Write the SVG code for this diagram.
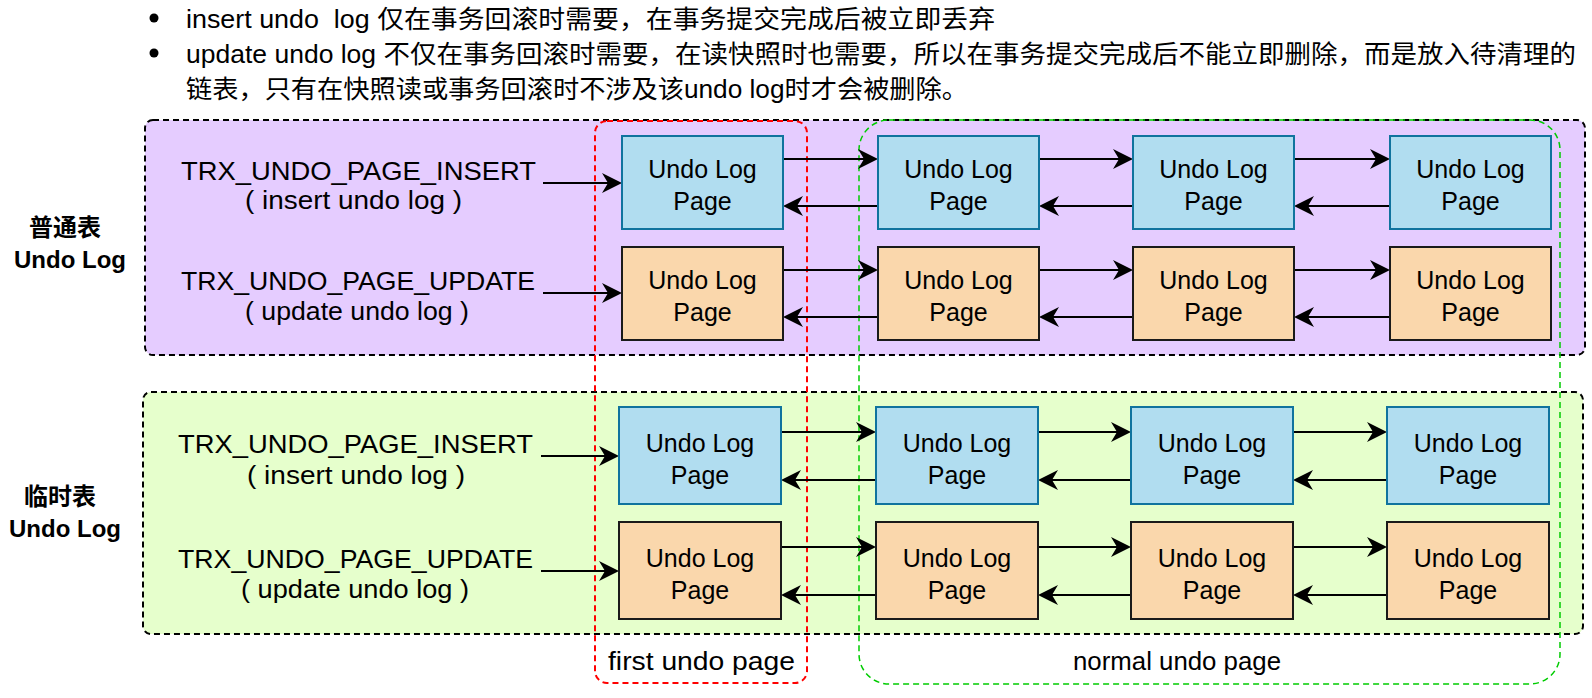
<svg xmlns="http://www.w3.org/2000/svg" width="1592" height="698" viewBox="0 0 1592 698">
<defs>
<style>
.t{font-family:"Liberation Sans","Noto Sans CJK SC",sans-serif;fill:#000}
.top{font-size:25px}
.lbl{font-size:25px}
.side{font-size:24px;font-weight:bold;text-anchor:middle}
.nt{font-size:25px;text-anchor:middle}
.bb{fill:#B1DDF0;stroke:#10739E;stroke-width:2}
.bo{fill:#FAD7AC;stroke:#1a1a1a;stroke-width:2}
.e{stroke:#000;stroke-width:2.2;fill:none;marker-end:url(#arr)}
.cont{stroke:#000;stroke-width:2;stroke-dasharray:6 4}
</style>
<marker id="arr" markerUnits="userSpaceOnUse" markerWidth="21" markerHeight="20" viewBox="0 0 21 20" refX="6" refY="10" orient="auto">
<path d="M0,0 L20,10 L0,20 L6,10 Z" fill="#000"/>
</marker>
</defs>
<rect width="1592" height="698" fill="#fff"/>

<g id="notes">
<circle cx="154" cy="18" r="4.5" fill="#000"/>
<circle cx="154" cy="53" r="4.5" fill="#000"/>
<text class="t top" x="186" y="28" textLength="809" lengthAdjust="spacingAndGlyphs" style="white-space:pre">insert undo  log 仅在事务回滚时需要，在事务提交完成后被立即丢弃</text>
<text class="t top" x="186" y="63" textLength="1390" lengthAdjust="spacingAndGlyphs">update undo log 不仅在事务回滚时需要，在读快照时也需要，所以在事务提交完成后不能立即删除，而是放入待清理的</text>
<text class="t top" x="186" y="98" textLength="782" lengthAdjust="spacingAndGlyphs">链表，只有在快照读或事务回滚时不涉及该undo log时才会被删除。</text>
</g>

<g id="normal-table">
<rect class="cont" x="145" y="120" width="1440" height="235" rx="8" fill="#E5CCFF"/>
<text class="t side" x="65" y="236">普通表</text>
<text class="t side" x="70" y="268">Undo Log</text>
</g>
<g id="temp-table">
<rect class="cont" x="143" y="392" width="1440" height="242" rx="8" fill="#E6FFCC"/>
<text class="t side" x="60" y="505">临时表</text>
<text class="t side" x="65" y="537">Undo Log</text>
</g>

<g id="first-undo-page">
<rect x="595" y="121" width="212" height="562" rx="12" fill="none" stroke="#FF0000" stroke-width="2" stroke-dasharray="6 4"/>
<text class="t lbl" x="608" y="670" textLength="187" lengthAdjust="spacingAndGlyphs">first undo page</text>
</g>
<g id="normal-undo-page">
<rect x="859" y="120" width="701" height="564" rx="30" fill="none" stroke="#00CC00" stroke-width="1.5" stroke-dasharray="6 4"/>
<text class="t lbl" x="1073" y="670" textLength="208" lengthAdjust="spacingAndGlyphs">normal undo page</text>
</g>

<g id="labels">
<text class="t lbl" x="181" y="180" textLength="355" lengthAdjust="spacingAndGlyphs">TRX_UNDO_PAGE_INSERT</text>
<text class="t lbl" x="245" y="209" textLength="217" lengthAdjust="spacingAndGlyphs">( insert undo log )</text>
<text class="t lbl" x="181" y="290" textLength="354" lengthAdjust="spacingAndGlyphs">TRX_UNDO_PAGE_UPDATE</text>
<text class="t lbl" x="245" y="320" textLength="224" lengthAdjust="spacingAndGlyphs">( update undo log )</text>
<text class="t lbl" x="178" y="453" textLength="355" lengthAdjust="spacingAndGlyphs">TRX_UNDO_PAGE_INSERT</text>
<text class="t lbl" x="247" y="484" textLength="218" lengthAdjust="spacingAndGlyphs">( insert undo log )</text>
<text class="t lbl" x="178" y="568" textLength="355" lengthAdjust="spacingAndGlyphs">TRX_UNDO_PAGE_UPDATE</text>
<text class="t lbl" x="241" y="598" textLength="228" lengthAdjust="spacingAndGlyphs">( update undo log )</text>
</g>

<g id="connectors">
<path class="e" d="M543,183 H608"/>
<path class="e" d="M543,293 H608"/>
<path class="e" d="M783,159 H864"/><path class="e" d="M1039,159 H1119"/><path class="e" d="M1294,159 H1376"/>
<path class="e" d="M878,206 H797"/><path class="e" d="M1133,206 H1053"/><path class="e" d="M1390,206 H1308"/>
<path class="e" d="M783,270 H864"/><path class="e" d="M1039,270 H1119"/><path class="e" d="M1294,270 H1376"/>
<path class="e" d="M878,317 H797"/><path class="e" d="M1133,317 H1053"/><path class="e" d="M1390,317 H1308"/>
<path class="e" d="M541,456 H605"/>
<path class="e" d="M541,571 H605"/>
<path class="e" d="M781,432 H862"/><path class="e" d="M1038,432 H1117"/><path class="e" d="M1293,432 H1373"/>
<path class="e" d="M876,480 H795"/><path class="e" d="M1131,480 H1052"/><path class="e" d="M1387,480 H1307"/>
<path class="e" d="M781,547 H862"/><path class="e" d="M1038,547 H1117"/><path class="e" d="M1293,547 H1373"/>
<path class="e" d="M876,595 H795"/><path class="e" d="M1131,595 H1052"/><path class="e" d="M1387,595 H1307"/>
</g>

<g id="n-ins-1"><rect class="bb" x="622" y="136" width="161" height="93"/><text class="t nt" x="702.5" y="178">Undo Log</text><text class="t nt" x="702.5" y="210">Page</text></g>
<g id="n-ins-2"><rect class="bb" x="878" y="136" width="161" height="93"/><text class="t nt" x="958.5" y="178">Undo Log</text><text class="t nt" x="958.5" y="210">Page</text></g>
<g id="n-ins-3"><rect class="bb" x="1133" y="136" width="161" height="93"/><text class="t nt" x="1213.5" y="178">Undo Log</text><text class="t nt" x="1213.5" y="210">Page</text></g>
<g id="n-ins-4"><rect class="bb" x="1390" y="136" width="161" height="93"/><text class="t nt" x="1470.5" y="178">Undo Log</text><text class="t nt" x="1470.5" y="210">Page</text></g>

<g id="n-upd-1"><rect class="bo" x="622" y="247" width="161" height="93"/><text class="t nt" x="702.5" y="289">Undo Log</text><text class="t nt" x="702.5" y="321">Page</text></g>
<g id="n-upd-2"><rect class="bo" x="878" y="247" width="161" height="93"/><text class="t nt" x="958.5" y="289">Undo Log</text><text class="t nt" x="958.5" y="321">Page</text></g>
<g id="n-upd-3"><rect class="bo" x="1133" y="247" width="161" height="93"/><text class="t nt" x="1213.5" y="289">Undo Log</text><text class="t nt" x="1213.5" y="321">Page</text></g>
<g id="n-upd-4"><rect class="bo" x="1390" y="247" width="161" height="93"/><text class="t nt" x="1470.5" y="289">Undo Log</text><text class="t nt" x="1470.5" y="321">Page</text></g>

<g id="t-ins-1"><rect class="bb" x="619" y="407" width="162" height="97"/><text class="t nt" x="700" y="452">Undo Log</text><text class="t nt" x="700" y="484">Page</text></g>
<g id="t-ins-2"><rect class="bb" x="876" y="407" width="162" height="97"/><text class="t nt" x="957" y="452">Undo Log</text><text class="t nt" x="957" y="484">Page</text></g>
<g id="t-ins-3"><rect class="bb" x="1131" y="407" width="162" height="97"/><text class="t nt" x="1212" y="452">Undo Log</text><text class="t nt" x="1212" y="484">Page</text></g>
<g id="t-ins-4"><rect class="bb" x="1387" y="407" width="162" height="97"/><text class="t nt" x="1468" y="452">Undo Log</text><text class="t nt" x="1468" y="484">Page</text></g>

<g id="t-upd-1"><rect class="bo" x="619" y="522" width="162" height="97"/><text class="t nt" x="700" y="567">Undo Log</text><text class="t nt" x="700" y="599">Page</text></g>
<g id="t-upd-2"><rect class="bo" x="876" y="522" width="162" height="97"/><text class="t nt" x="957" y="567">Undo Log</text><text class="t nt" x="957" y="599">Page</text></g>
<g id="t-upd-3"><rect class="bo" x="1131" y="522" width="162" height="97"/><text class="t nt" x="1212" y="567">Undo Log</text><text class="t nt" x="1212" y="599">Page</text></g>
<g id="t-upd-4"><rect class="bo" x="1387" y="522" width="162" height="97"/><text class="t nt" x="1468" y="567">Undo Log</text><text class="t nt" x="1468" y="599">Page</text></g>
</svg>
